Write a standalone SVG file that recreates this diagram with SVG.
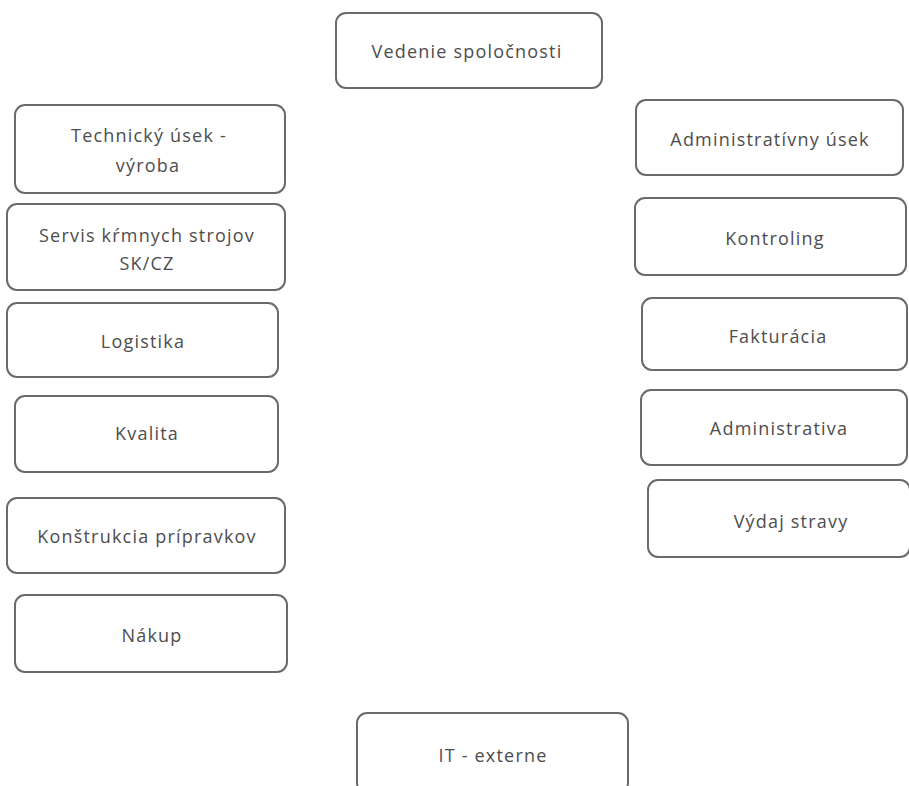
<svg xmlns="http://www.w3.org/2000/svg" width="909" height="786" viewBox="0 0 909 786">
<style>
.box{fill:#fff;stroke:#6a6a6a;stroke-width:2}
.t{font-family:"Open Sans","Liberation Sans",sans-serif;font-size:18px;fill:#4d4d4d;text-anchor:middle;letter-spacing:1.2px}
</style>
<rect width="909" height="786" fill="#fff"/>
<g id="connectors"/>
<g id="vedenie"><rect class="box" x="336" y="13" width="266" height="75" rx="10"/><text class="t" x="467" y="58">Vedenie spoločnosti</text></g>
<g id="technicky"><rect class="box" x="15" y="105" width="270" height="88" rx="10"/><text class="t" x="149" y="142">Technický úsek -</text><text class="t" x="148" y="172">výroba</text></g>
<g id="servis"><rect class="box" x="7" y="204" width="278" height="86" rx="10"/><text class="t" x="147" y="242">Servis kŕmnych strojov</text><text class="t" x="147" y="270">SK/CZ</text></g>
<g id="logistika"><rect class="box" x="7" y="303" width="271" height="74" rx="10"/><text class="t" x="143" y="348">Logistika</text></g>
<g id="kvalita"><rect class="box" x="15" y="396" width="263" height="76" rx="10"/><text class="t" x="147" y="440">Kvalita</text></g>
<g id="konstrukcia"><rect class="box" x="7" y="498" width="278" height="75" rx="10"/><text class="t" x="147" y="543">Konštrukcia prípravkov</text></g>
<g id="nakup"><rect class="box" x="15" y="595" width="272" height="77" rx="10"/><text class="t" x="152" y="642">Nákup</text></g>
<g id="administrativny"><rect class="box" x="636" y="100" width="267" height="75" rx="10"/><text class="t" x="770" y="146">Administratívny úsek</text></g>
<g id="kontroling"><rect class="box" x="635" y="198" width="271" height="77" rx="10"/><text class="t" x="775" y="245">Kontroling</text></g>
<g id="fakturacia"><rect class="box" x="642" y="298" width="265" height="72" rx="10"/><text class="t" x="778" y="343">Fakturácia</text></g>
<g id="administrativa"><rect class="box" x="641" y="390" width="266" height="75" rx="10"/><text class="t" x="779" y="435">Administrativa</text></g>
<g id="vydaj"><rect class="box" x="648" y="480" width="262" height="77" rx="10"/><text class="t" x="791" y="528">Výdaj stravy</text></g>
<g id="it"><rect class="box" x="357" y="713" width="271" height="80" rx="10"/><text class="t" x="493" y="762">IT - externe</text></g>
</svg>
